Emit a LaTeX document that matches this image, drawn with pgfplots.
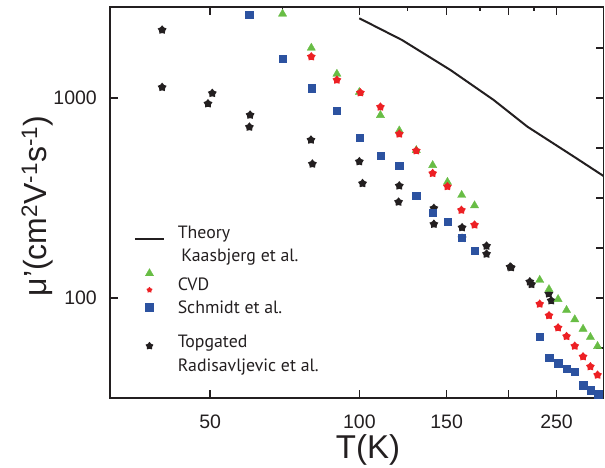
\documentclass[border=0pt]{standalone}
\usepackage{fontspec}
\setmainfont{Liberation Sans}
\newfontfamily\legfont{PT Sans}
\usepackage{pgfplots}
\pgfplotsset{compat=1.18}
\definecolor{cvdgreen}{RGB}{104,189,69}
\definecolor{cvdred}{RGB}{237,32,36}
\definecolor{schblue}{RGB}{44,82,160}
\definecolor{tgblack}{RGB}{35,31,32}

\pgfdeclareplotmark{fstar}{%
  \pgfpathmoveto{\pgfpointpolar{90}{\pgfplotmarksize}}%
  \pgfpathlineto{\pgfpointpolar{126}{0.66\pgfplotmarksize}}%
  \pgfpathlineto{\pgfpointpolar{162}{\pgfplotmarksize}}%
  \pgfpathlineto{\pgfpointpolar{198}{0.66\pgfplotmarksize}}%
  \pgfpathlineto{\pgfpointpolar{234}{\pgfplotmarksize}}%
  \pgfpathlineto{\pgfpointpolar{270}{0.66\pgfplotmarksize}}%
  \pgfpathlineto{\pgfpointpolar{306}{\pgfplotmarksize}}%
  \pgfpathlineto{\pgfpointpolar{342}{0.66\pgfplotmarksize}}%
  \pgfpathlineto{\pgfpointpolar{18}{\pgfplotmarksize}}%
  \pgfpathlineto{\pgfpointpolar{54}{0.66\pgfplotmarksize}}%
  \pgfpathclose
  \pgfusepathqfill
}

\pgfplotsset{
  alllegend/.style={legend image code/.code={%
    \draw[tgblack, line width=2pt] (0pt,-0.7pt) -- (29pt,-0.7pt);
    \draw[only marks, mark=triangle*, mark size=4.8pt, cvdgreen, mark options={line width=0.3pt}] plot coordinates {(14.5pt,-35.1pt)};
    \draw[only marks, mark=fstar, mark size=3.2pt, cvdred] plot coordinates {(14.5pt,-51.7pt)};
    \draw[only marks, mark=square*, mark size=4pt, schblue, mark options={line width=0.3pt}] plot coordinates {(14.5pt,-69pt)};
    \draw[only marks, mark=fstar, mark size=4.2pt, tgblack] plot coordinates {(14.5pt,-107.7pt)};
    }},
}

\begin{document}
\begin{tikzpicture}
\useasboundingbox (-110pt,-70pt) rectangle (495pt,398pt);
% ticks on top and right
\begin{axis}[
  scale only axis, width=493.5pt, height=391pt,
  xmode=log, ymode=log,
  xmin=31.4, xmax=311, ymin=31.62, ymax=2851,
  axis line style={line width=1.5pt, tgblack},
  tick style={line width=1.5pt, tgblack},
  major tick length=8pt,
  tick pos=right,
  xtick={50,100,150,200,250}, xticklabels={},
  ytick={56.23,100,177.8,316.2,562.3,1000,1778}, yticklabels={},
  extra x ticks={70,125,175,225}, extra x tick labels={},
  extra x tick style={major tick length=4pt},
  xminorticks=false, yminorticks=false,
]
\end{axis}
\begin{axis}[
  scale only axis, width=493.5pt, height=391pt,
  xmode=log, ymode=log,
  xmin=31.4, xmax=311, ymin=31.62, ymax=2851,
  axis line style={line width=1.5pt, tgblack},
  tick style={line width=1.5pt, tgblack},
  major tick length=8pt,
  tick pos=left,
  xtick={50,100,150,200,250}, xticklabels={50,100,150,,250},
  ytick={100,1000}, yticklabels={100,1000},
  xminorticks=false, yminorticks=false,
  tick label style={font=\fontsize{19.5}{23}\selectfont, text=tgblack},
  xticklabel style={anchor=base, inner sep=0pt, yshift=-31pt},
  yticklabel style={anchor=east, inner sep=0pt, xshift=-13pt},
  xlabel={T(K)},
  ylabel={μ’(cm\textsuperscript{2}V\textsuperscript{-1}s\textsuperscript{-1})},
  xlabel style={font=\fontsize{33}{38}\selectfont, at={(axis description cs:0.5228,-0.133)}, anchor=center, inner sep=0pt, text=tgblack},
  ylabel style={font=\fontsize{32}{36}\selectfont, at={(axis description cs:-0.1479,0.491)}, anchor=center, inner sep=0pt, text=tgblack},
  legend style={at={(0.0486,0.4519)}, anchor=north west,
    draw=none, fill=none, inner sep=0pt, outer sep=0pt,
    row sep=0pt, column sep=10.8pt,
    font=\legfont\fontsize{17.8}{21}\selectfont, text=tgblack,
    cells={anchor=base west, inner sep=0pt}},
]
% Theory (Kaasbjerg et al.)
\addplot[forget plot, tgblack, line width=2pt] coordinates {(100,2503) (121.9,1950) (152.7,1380) (186.7,977) (218.3,719) (271,509) (314,401)};
% Topgated (Radisavljevic et al.)
\addplot[forget plot, only marks, mark=fstar, mark size=4.7pt, tgblack] coordinates {
(40.0,2188) (40.0,1131) (50.5,1056) (49.5,937) (60.2,822) (60.0,716) (79.9,617) (80.4,468)
(100,481) (101.5,374) (120.4,364) (120,302) (141.4,281) (141.4,234) (161.2,225) (161.2,199)
(180.6,182) (180.6,166) (202.5,142) (201.5,143) (220.8,120.6) (222.6,117) (241.2,105) (243.9,97)};
% CVD triangles
\addplot[forget plot, only marks, mark=triangle*, mark size=4.8pt, cvdgreen, mark options={line width=0.3pt}] coordinates {
(70.0,2634) (80,1780) (90.1,1319) (100,1069) (110.3,820) (120.4,687) (130.3,548) (140.6,461)
(150.6,380) (160.9,327) (170.8,290) (231.2,123) (241.4,110.5) (251.8,98.6) (261.9,86.9)
(272.1,78.1) (282.8,70.0) (292.6,63.7) (302.5,57.4)};
% CVD stars
\addplot[forget plot, only marks, mark=fstar, mark size=4.6pt, cvdred] coordinates {
(80,1609) (90.1,1230) (100.5,1063) (110.3,902) (120.4,661) (130.3,545) (140.6,420) (150.6,361)
(160.7,275) (170.8,232) (231.2,93.3) (241.4,81.7) (251.8,71.0) (261.9,64.3) (272.1,57.5)
(282.8,50.9) (292.6,45.4) (302.5,41.2)};
% Schmidt et al.
\addplot[forget plot, only marks, mark=square*, mark size=3.65pt, schblue, mark options={line width=0.3pt}] coordinates {
(59.9,2600) (70,1572) (80,1118) (90.1,861) (100,633) (110.3,514) (120.4,459) (130.3,325)
(140.6,268) (150.6,241) (160.7,201) (170.8,172) (231.2,64) (241.4,50.5) (251.8,47.3)
(261.9,44.2) (272.3,42.8) (282.9,36.7) (292.9,34.6) (303.3,33.0)};

% legend
\addlegendimage{alllegend}
\addlegendentry[text height=15pt]{\parbox[t]{250pt}{\baselineskip=21pt Theory\\[2pt]\hspace*{3.7pt}Kaasbjerg et al.\\[8pt]CVD\\[2.4pt]Schmidt et al.\\[13.3pt]Topgated\\[2.5pt]Radisavljevic et al.}}
\end{axis}
\end{tikzpicture}
\end{document}
